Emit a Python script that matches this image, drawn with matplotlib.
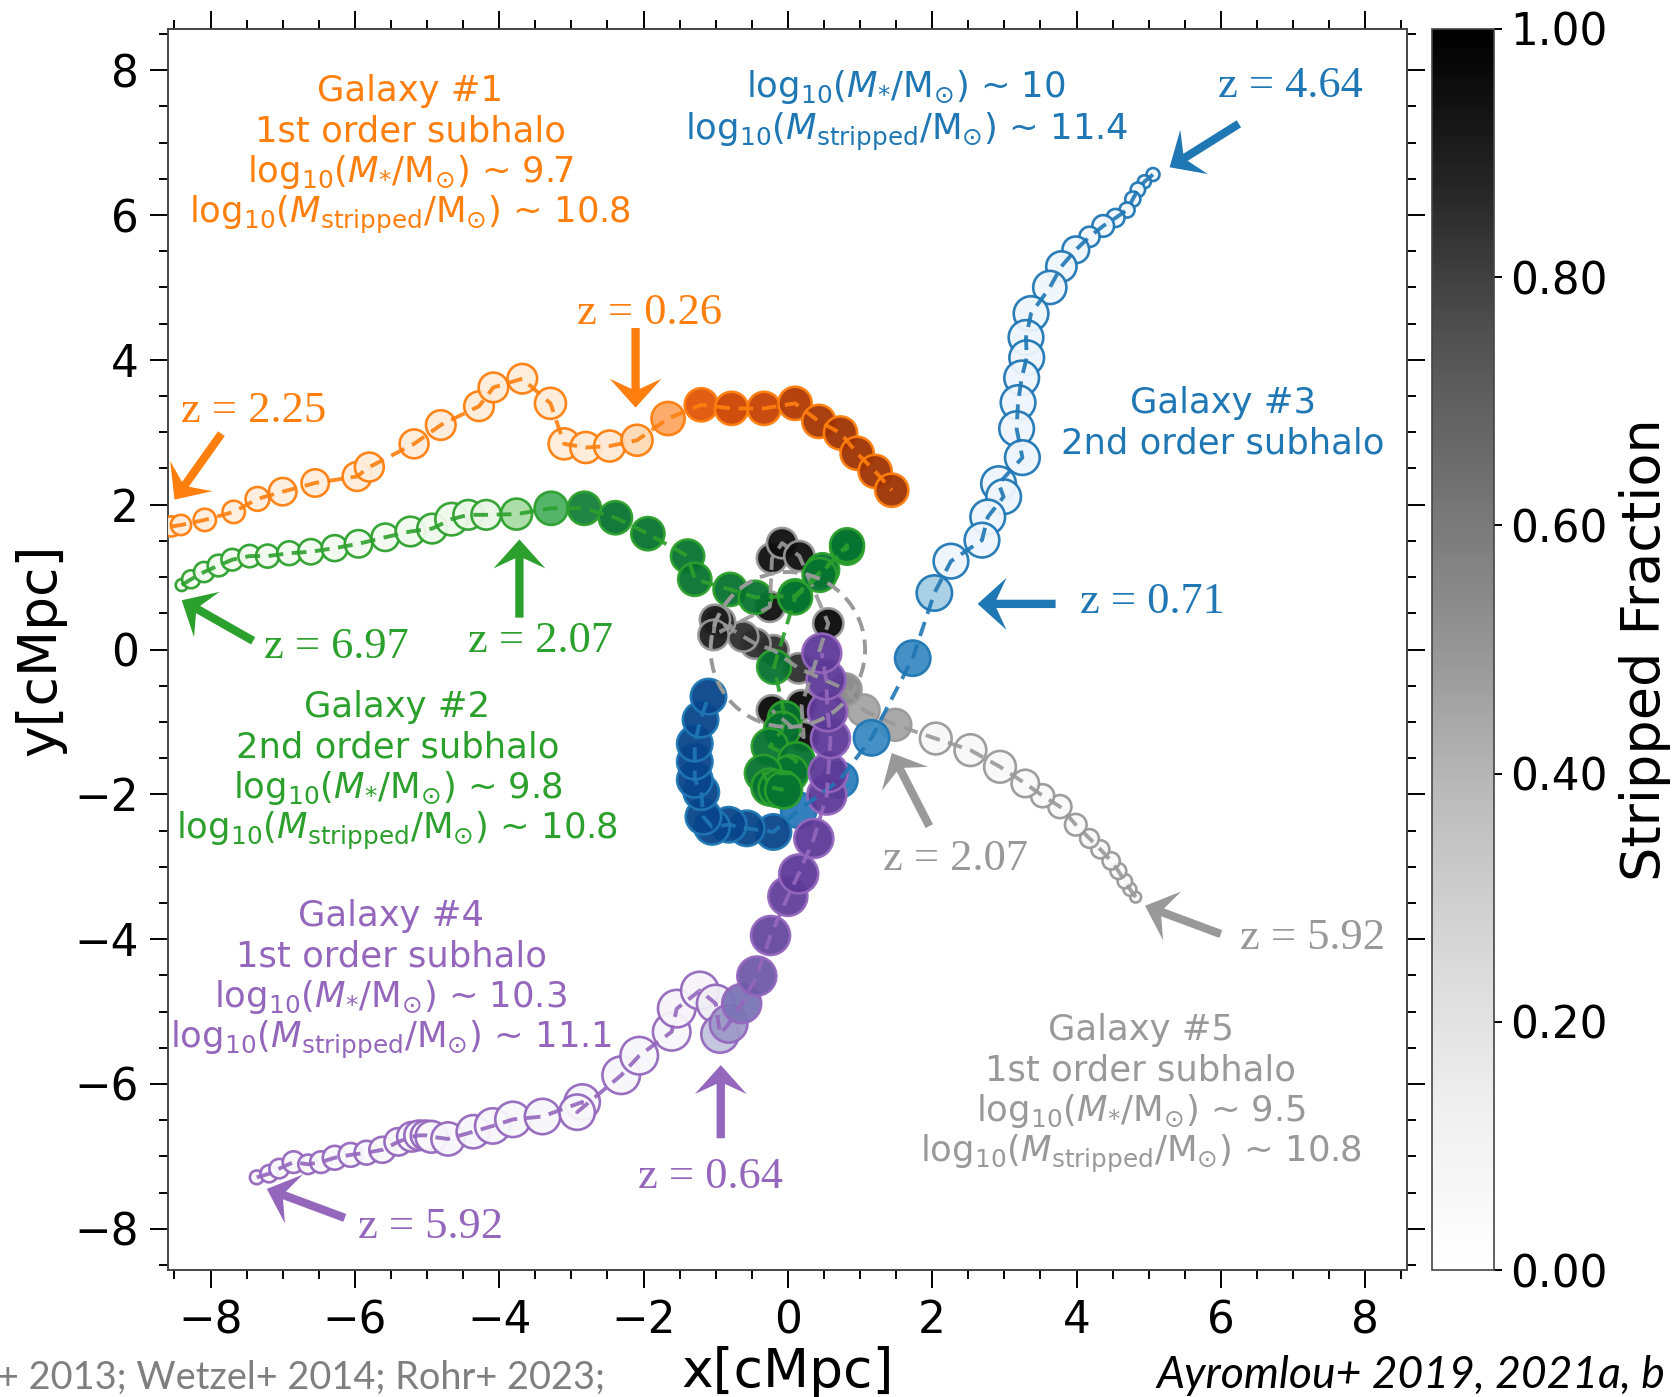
import numpy as np
import matplotlib
matplotlib.use('Agg')
import matplotlib.pyplot as plt
from matplotlib.patches import Circle, Polygon
from matplotlib.ticker import MultipleLocator, FormatStrFormatter

# galaxy 1
g1_x = [-8.54, -8.41, -8.08, -7.68, -7.35, -7.00, -6.55, -5.97, -5.80, -5.18, -4.81, -4.28, -4.08, -3.68, -3.29,
        -3.10, -2.80, -2.47, -2.09, -1.66, -1.20, -0.78, -0.33, 0.10, 0.43, 0.73, 0.96, 1.21, 1.44]
g1_y = [1.70, 1.72, 1.79, 1.90, 2.08, 2.18, 2.30, 2.39, 2.52, 2.84, 3.10, 3.36, 3.62, 3.74, 3.40,
        2.84, 2.79, 2.81, 2.89, 3.19, 3.38, 3.33, 3.33, 3.40, 3.15, 2.99, 2.71, 2.46, 2.20]
g1_f = [.05, .05, .05, .05, .05, .05, .06, .06, .06, .07, .07, .08, .08, .08, .08,
        .08, .08, .1, .2, .4, .7, .78, .8, .85, .88, .9, .9, .9, .9]
g1_r = [.14, .14, .155, .155, .165, .19, .19, .2, .2, .2, .205, .205, .205, .205, .215,
        .215, .215, .215, .215, .23, .23, .23, .23, .23, .23, .23, .23, .23, .23]

# galaxy 2
g2_x = [-8.40, -8.27, -8.09, -7.89, -7.70, -7.46, -7.21, -6.91, -6.61, -6.28, -5.95, -5.58, -5.23, -4.93, -4.66,
        -4.43, -4.18, -3.76, -3.28, -2.82, -2.39, -1.94, -1.39, -1.29, -0.80, -0.45, 0.10, 0.48, 0.82,
        0.82, 0.44, 0.10, -0.19, -0.04, -0.08, -0.25, 0.12, 0.03, -0.34, -0.25, -0.15, -0.06]
g2_y = [0.89, 0.97, 1.07, 1.16, 1.24, 1.29, 1.29, 1.33, 1.35, 1.40, 1.46, 1.55, 1.63, 1.67, 1.80,
        1.86, 1.86, 1.87, 1.95, 1.95, 1.82, 1.60, 1.29, 0.97, 0.83, 0.72, 0.74, 1.10, 1.40,
        1.44, 1.03, 0.72, -0.24, -0.95, -1.11, -1.34, -1.53, -1.71, -1.71, -1.90, -1.92, -1.94]
g2_f = [.03, .03, .03, .03, .03, .03, .03, .03, .03, .03, .03, .03, .04, .05, .06,
        .08, .1, .35, .6, .8, .85, .85, .85, .85, .85, .85, .85, .85, .85,
        .85, .85, .85, .85, .85, .85, .85, .85, .85, .85, .85, .85, .85]
g2_r = [.083, .125, .14, .15, .15, .155, .16, .165, .175, .18, .19, .19, .205, .205, .225,
        .205, .205, .215, .23, .23, .23, .23, .23, .23, .23, .23, .23, .23, .23,
        .235, .235, .235, .235, .235, .25, .25, .25, .25, .255, .255, .255, .255]

# galaxy 3
g3_x = [5.06, 4.94, 4.85, 4.78, 4.70, 4.54, 4.37, 4.18, 3.99, 3.79, 3.63, 3.37, 3.30, 3.31, 3.24, 3.19, 3.17,
        3.25, 2.92, 2.99, 2.77, 2.69, 2.26, 2.03, 1.73, 1.16, 0.72, 0.15, -0.20, -0.57, -0.82, -1.05, -1.17, -1.20,
        -1.29, -1.29, -1.29, -1.21, -1.10]
g3_y = [6.56, 6.46, 6.35, 6.22, 6.07, 5.96, 5.85, 5.70, 5.52, 5.29, 5.00, 4.64, 4.31, 4.03, 3.75, 3.41, 3.05,
        2.65, 2.29, 2.11, 1.83, 1.51, 1.22, 0.78, -0.12, -1.22, -1.80, -2.22, -2.52, -2.47, -2.42, -2.45, -2.31, -1.97,
        -1.80, -1.55, -1.30, -0.97, -0.65]
g3_f = [.03, .03, .03, .03, .03, .03, .03, .03, .04, .04, .04, .05, .05, .05, .05, .05, .05,
        .05, .05, .05, .05, .05, .05, .35, .65, .65, .7, .72, .92, .92, .92, .92, .92, .92,
        .92, .92, .92, .92, .92]
g3_r = [.09, .09, .10, .105, .105, .125, .15, .14, .185, .21, .23, .24, .24, .24, .24, .24, .24,
        .24, .24, .24, .24, .24, .24, .245, .245, .245, .245, .245, .245, .245, .245, .245, .245, .245,
        .245, .245, .245, .245, .245]

# galaxy 4
g4_x = [-7.36, -7.19, -7.05, -6.85, -6.65, -6.47, -6.28, -6.06, -5.84, -5.62, -5.40, -5.21, -5.11, -5.02, -4.94,
        -4.71, -4.36, -4.09, -3.81, -3.40, -2.85, -2.92, -2.31, -2.06, -1.61, -1.54, -1.22, -1.00, -0.94, -0.82,
        -0.64, -0.43, -0.24, 0.00, 0.15, 0.36, 0.54, 0.56, 0.59, 0.55, 0.53, 0.47]
g4_y = [-7.29, -7.24, -7.17, -7.08, -7.11, -7.08, -7.02, -6.98, -6.95, -6.91, -6.80, -6.73, -6.71, -6.71, -6.73,
        -6.76, -6.66, -6.58, -6.49, -6.45, -6.25, -6.39, -5.88, -5.61, -5.28, -4.96, -4.71, -4.89, -5.31, -5.17,
        -4.89, -4.51, -3.95, -3.41, -3.10, -2.61, -2.01, -1.70, -1.23, -0.86, -0.42, -0.05]
g4_f = [.03, .03, .03, .03, .03, .03, .03, .03, .03, .03, .03, .03, .03, .03, .04,
        .05, .05, .05, .05, .05, .05, .05, .05, .05, .05, .06, .06, .12, .35, .5,
        .65, .72, .78, .8, .82, .82, .82, .82, .82, .82, .82, .82]
g4_r = [.095, .12, .135, .15, .135, .15, .165, .165, .165, .18, .19, .205, .205, .205, .22,
        .23, .23, .245, .245, .245, .245, .245, .26, .26, .26, .26, .26, .26, .26, .26,
        .27, .27, .27, .27, .27, .27, .27, .27, .27, .27, .27, .27]

# galaxy 5
g5_x = [4.82, 4.74, 4.67, 4.58, 4.48, 4.33, 4.18, 3.99, 3.77, 3.53, 3.29, 2.94, 2.53, 2.05, 1.49, 1.05, 0.80,
        0.15, -0.20, -0.45, -0.62, -0.94, -1.01, -1.03, -0.25, -0.22, -0.08, 0.16, 0.56, 0.19, 0.22, -0.22]
g5_y = [-3.42, -3.31, -3.20, -3.06, -2.92, -2.76, -2.61, -2.42, -2.17, -2.02, -1.85, -1.62, -1.39, -1.23, -1.04, -0.84, -0.55,
        -0.26, -0.01, 0.08, 0.18, 0.38, 0.41, 0.20, 0.59, 1.26, 1.47, 1.29, 0.36, -0.77, -1.21, -0.84]
g5_f = [.04, .04, .04, .04, .04, .05, .05, .05, .05, .05, .05, .06, .06, .07, .45, .45, .55,
        .85, .85, .85, .85, .9, .9, .9, .95, .95, .95, .95, .97, .97, .97, .97]
g5_r = [.075, .09, .1, .11, .12, .125, .13, .15, .16, .16, .19, .22, .22, .22, .22, .22, .22,
        .21, .21, .21, .21, .21, .21, .21, .21, .21, .21, .21, .21, .21, .21, .21]

r_vir = 1.07

col_orange = '#ff7f0e'
col_green = '#2ca02c'
col_blue = '#1f77b4'
col_purple = '#9467bd'
col_gray = '#999999'

label_lines = [
    (-5.23, [7.71, 7.15, 6.59, 6.00], col_orange,
     ['Galaxy #1', '1st order subhalo', r'log$_{10}$($M_{*}$/M$_{\odot}$) ~ 9.7', r'log$_{10}$($M_{\rm stripped}$/M$_{\odot}$) ~ 10.8']),
    (-5.41, [-0.79, -1.35, -1.91, -2.50], col_green,
     ['Galaxy #2', '2nd order subhalo', r'log$_{10}$($M_{*}$/M$_{\odot}$) ~ 9.8', r'log$_{10}$($M_{\rm stripped}$/M$_{\odot}$) ~ 10.8']),
    (1.64, [7.77, 7.15], col_blue,
     [r'log$_{10}$($M_{*}$/M$_{\odot}$) ~ 10', r'log$_{10}$($M_{\rm stripped}$/M$_{\odot}$) ~ 11.4']),
    (6.03, [3.40, 2.84], col_blue, ['Galaxy #3', '2nd order subhalo']),
    (-5.50, [-3.68, -4.24, -4.80, -5.39], col_purple,
     ['Galaxy #4', '1st order subhalo', r'log$_{10}$($M_{*}$/M$_{\odot}$) ~ 10.3', r'log$_{10}$($M_{\rm stripped}$/M$_{\odot}$) ~ 11.1']),
    (4.89, [-5.26, -5.82, -6.38, -6.97], col_gray,
     ['Galaxy #5', '1st order subhalo', r'log$_{10}$($M_{*}$/M$_{\odot}$) ~ 9.5', r'log$_{10}$($M_{\rm stripped}$/M$_{\odot}$) ~ 10.8']),
]

z_labels = [
    ('z = 2.25', -7.41, 3.30, col_orange, (-7.85, 2.98), (-8.50, 2.07)),
    ('z = 0.26', -1.92, 4.65, col_orange, (-2.11, 4.44), (-2.11, 3.34)),
    ('z = 6.97', -6.25, 0.03, col_green, (-7.41, 0.12), (-8.40, 0.68)),
    ('z = 2.07', -3.43, 0.12, col_green, (-3.72, 0.44), (-3.72, 1.52)),
    ('z = 4.64', 6.96, 7.78, col_blue, (6.25, 7.26), (5.29, 6.66)),
    ('z = 0.71', 5.05, 0.65, col_blue, (3.71, 0.63), (2.63, 0.63)),
    ('z = 2.07', 2.33, -2.89, col_gray, (1.96, -2.44), (1.44, -1.43)),
    ('z = 5.92', 7.27, -3.98, col_gray, (6.00, -3.93), (4.95, -3.54)),
    ('z = 0.64', -1.07, -7.29, col_purple, (-0.93, -6.75), (-0.93, -5.74)),
    ('z = 5.92', -4.95, -7.97, col_purple, (-6.14, -7.85), (-7.22, -7.45)),
]

x_ticks = [-8, -6, -4, -2, 0, 2, 4, 6, 8]
y_ticks = [-8, -6, -4, -2, 0, 2, 4, 6, 8]
cbar_ticks = [0.0, 0.2, 0.4, 0.6, 0.8, 1.0]

W, H = 1675, 1397
px_per_unit = 72.15
plt.rcParams['mathtext.fontset'] = 'dejavusans'


def size_of(r):
    return (2 * np.array(r) * px_per_unit * 0.72) ** 2


def draw_arrow(ax, tail, tip, color):
    tail = np.array(tail)
    tip = np.array(tip)
    u = (tip - tail) / np.hypot(*(tip - tail))
    n = np.array([-u[1], u[0]])
    w, hw, hl, notch = 0.115, 0.72, 0.40, 0.14
    neck = tip - u * (hl - notch)
    barb = tip - u * hl
    pts = [tail + n * w / 2, neck + n * w / 2, barb + n * hw / 2, tip,
           barb - n * hw / 2, neck - n * w / 2, tail - n * w / 2]
    ax.add_patch(Polygon(pts, closed=True, fc=color, ec='none', zorder=8))


fig = plt.figure(figsize=(W / 100, H / 100), dpi=100)
ax = fig.add_axes([168 / W, 1 - 1270 / H, (1407 - 168) / W, (1270 - 29) / H])
cax = fig.add_axes([1432 / W, 1 - 1270 / H, 62 / W, (1270 - 29) / H])

galaxies = [
    (g5_x, g5_y, g5_f, g5_r, 'Greys', col_gray),
    (g3_x, g3_y, g3_f, g3_r, 'Blues', col_blue),
    (g2_x, g2_y, g2_f, g2_r, 'Greens', col_green),
    (g4_x, g4_y, g4_f, g4_r, 'Purples', col_purple),
    (g1_x, g1_y, g1_f, g1_r, 'Oranges', col_orange),
]
dash = (0, (3.8, 2.2))
for x, y, f, r, cmap, col in galaxies:
    ax.scatter(x, y, s=size_of(r), c=f, cmap=cmap, vmin=0, vmax=1, edgecolors=col, linewidths=1.9, alpha=0.95, zorder=3)
    ax.plot(x, y, color=col, ls=dash, lw=2.8, alpha=0.9, zorder=5)

ax.add_patch(Circle((0, 0), r_vir, fill=False, ec=col_gray, ls=dash, lw=2.8, zorder=6))

for lx, ly, col, lines in label_lines:
    for yy, line in zip(ly, lines):
        ax.text(lx, yy, line, color=col, fontsize=25.5, ha='center', va='center', zorder=9)

for txt, tx, ty, col, tail, tip in z_labels:
    ax.text(tx, ty, txt, color=col, fontsize=32, family='Liberation Serif', ha='center', va='center', zorder=9)
    draw_arrow(ax, tail, tip, col)

ax.set_xlim(-8.59, 8.58)
ax.set_ylim(-8.57, 8.57)
ax.set_xticks(x_ticks)
ax.set_yticks(y_ticks)
ax.xaxis.set_minor_locator(MultipleLocator(0.5))
ax.yaxis.set_minor_locator(MultipleLocator(0.5))
ax.tick_params(which='major', direction='out', length=13, width=1.4, top=True, right=True, labelsize=31.5, pad=8)
ax.tick_params(which='minor', direction='out', length=6.5, width=1.4, top=True, right=True)
ax.set_xlabel('x[cMpc]', fontsize=38.5, labelpad=3)
ax.set_ylabel('y[cMpc]', fontsize=38.5, labelpad=6)
for s in ax.spines.values():
    s.set_linewidth(1.4)
    s.set_color('#444444')

sm = plt.cm.ScalarMappable(cmap='Greys', norm=plt.Normalize(0, 1))
cb = fig.colorbar(sm, cax=cax)
cb.set_ticks(cbar_ticks)
cb.ax.yaxis.set_major_formatter(FormatStrFormatter('%.2f'))
cb.ax.tick_params(length=5.5, width=1.4, labelsize=31.5, pad=6)
cb.outline.set_linewidth(1.2)
cb.outline.set_edgecolor('#444444')
cb.set_label('Stripped Fraction', fontsize=39, labelpad=8)

fig.text(-0.002, 0.001, '+ 2013; Wetzel+ 2014; Rohr+ 2023;', color='#7f7f7f', fontsize=27.3,
         family='Lato', ha='left', va='bottom')
fig.text(0.994, 0.001, 'Ayromlou+ 2019, 2021a, b', color='black', fontsize=32, style='italic',
         family='Lato', ha='right', va='bottom')

fig.savefig('out.png', dpi=100)
